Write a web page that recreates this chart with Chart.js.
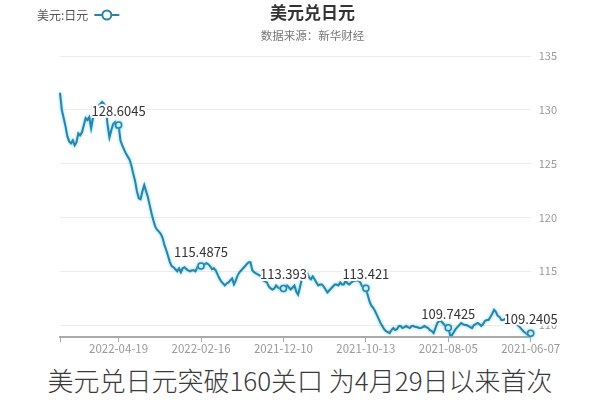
<!DOCTYPE html>
<html><head><meta charset="utf-8">
<script src="https://cdn.jsdelivr.net/npm/chart.js@4/dist/chart.umd.min.js"></script>
<style>
html,body{margin:0;padding:0;background:#fff;width:600px;height:400px;overflow:hidden}
#wrap{position:relative;width:600px;height:360px}
#cap{width:600px;height:40px;line-height:40px;text-align:center;font-family:"Noto Sans CJK SC",sans-serif;font-weight:300;font-size:26px;color:#3a3a3a;white-space:nowrap}
</style></head><body>
<div id="wrap"><canvas id="c"></canvas></div>
<div id="cap">美元兑日元突破160关口 为4月29日以来首次</div>
<script>
const seriesName = '美元:日元';
const titleText = '美元兑日元';
const subtitleText = '数据来源：新华财经';
const tickIndex = [0, 45, 90, 135, 180, 225];
const tickLabels = ['2021-06-07', '2021-08-05', '2021-10-13', '2021-12-10', '2022-02-16', '2022-04-19'];
const yTicks = [110, 115, 120, 125, 130, 135];
// chronological, one value per trading day starting 2021-06-07
const usdJpy = [
109.2405,109.06,109.15,109.29,109.43,109.62,109.81,110.00,110.09,110.19,
110.28,110.38,110.38,110.47,110.57,110.47,110.47,110.75,110.85,111.23,
111.42,111.04,110.75,110.47,110.47,110.38,110.09,109.91,110.09,110.19,
110.09,110.00,109.72,109.81,109.91,110.00,110.00,110.09,110.19,110.00,
109.81,109.62,109.34,109.06,109.06,109.7425,109.81,110.00,110.19,110.38,
110.38,110.19,109.72,109.25,109.43,109.53,109.72,109.81,109.91,109.81,
109.72,109.72,109.81,109.81,109.91,109.91,109.72,109.81,109.91,109.81,
109.72,109.91,109.91,109.62,109.53,109.72,109.53,109.25,109.34,109.43,
109.62,109.91,110.19,110.57,110.94,111.30,111.60,111.80,112.20,112.80,
113.421,113.50,113.60,113.96,114.15,114.15,114.15,114.06,113.96,113.77,
113.87,114.15,113.77,113.77,113.96,113.68,113.77,113.77,113.58,113.40,
113.21,113.02,113.30,113.58,113.77,113.77,113.68,113.96,114.25,114.53,
114.25,114.43,114.81,115.19,114.91,114.25,113.49,112.83,113.11,113.68,
113.49,113.30,113.49,113.68,113.58,113.393,113.40,113.40,113.49,113.68,
113.40,113.30,113.40,113.58,113.96,114.06,114.15,114.34,114.62,114.72,
114.81,114.91,115.09,115.85,115.85,115.66,115.47,115.28,115.09,114.91,
114.62,114.15,113.77,114.34,114.15,113.96,113.87,113.68,113.87,114.06,
114.34,114.72,115.09,115.28,115.19,115.47,115.66,115.75,115.66,115.57,
115.4875,115.47,115.38,115.00,115.09,115.09,115.00,115.09,115.19,115.38,
115.28,114.91,115.28,115.00,115.19,115.38,115.47,115.85,116.42,116.98,
117.45,118.11,118.49,118.68,118.87,119.15,119.72,120.38,121.13,121.89,
122.45,123.02,122.45,121.70,121.79,122.45,123.40,124.06,124.81,125.38,
125.66,125.94,126.32,126.70,127.17,128.6045,128.39,128.87,128.68,128.11,
127.45,128.58,130.19,130.57,130.75,130.57,130.38,130.19,129.81,129.25,
128.30,129.34,129.06,129.25,128.58,127.92,127.64,127.83,126.98,126.70,
127.17,126.89,127.08,127.55,128.49,129.25,130.00,131.60
];

const lineColor = '#2a84a7';
const FONT = '"Noto Sans CJK SC", "Noto Sans", sans-serif';
Chart.defaults.font.family = FONT;

const glowPlugin = {
  id: 'glow',
  beforeDatasetDraw(chart) {
    const ctx = chart.ctx; ctx.save();
    ctx.shadowColor = 'rgba(80,200,240,0.85)'; ctx.shadowBlur = 3;
  },
  afterDatasetDraw(chart) { chart.ctx.restore(); }
};

const valueLabelPlugin = {
  id: 'valueLabels',
  afterDatasetsDraw(chart) {
    const ctx = chart.ctx;
    const meta = chart.getDatasetMeta(0);
    ctx.save();
    ctx.font = '13px ' + FONT;
    ctx.textAlign = 'center';
    ctx.textBaseline = 'middle';
    ctx.lineJoin = 'round';
    tickIndex.forEach(i => {
      const p = meta.data[i];
      const txt = String(usdJpy[i]);
      ctx.strokeStyle = '#fff'; ctx.lineWidth = 4;
      ctx.strokeText(txt, p.x, p.y - 14);
      ctx.fillStyle = '#333';
      ctx.fillText(txt, p.x, p.y - 14);
    });
    ctx.restore();
  }
};

const legendPlugin = {
  id: 'legendDraw',
  afterDraw(chart) {
    const ctx = chart.ctx;
    ctx.save();
    ctx.font = '12px ' + FONT;
    ctx.fillStyle = '#555';
    ctx.textBaseline = 'middle';
    ctx.textAlign = 'left';
    const x0 = 37, y0 = 15;
    ctx.fillText(seriesName, x0, y0);
    const w = ctx.measureText(seriesName).width;
    const ix = x0 + w + 6;
    ctx.strokeStyle = lineColor; ctx.lineWidth = 2;
    ctx.beginPath(); ctx.moveTo(ix, y0); ctx.lineTo(ix + 25, y0); ctx.stroke();
    ctx.beginPath(); ctx.arc(ix + 12.5, y0, 4.5, 0, Math.PI * 2);
    ctx.fillStyle = '#fff'; ctx.fill(); ctx.stroke();
    ctx.restore();
  }
};

new Chart(document.getElementById('c'), {
  type: 'line',
  data: {
    datasets: [{
      label: seriesName,
      data: usdJpy.map((v, i) => ({ x: i, y: v })),
      borderColor: lineColor,
      borderWidth: 2,
      tension: 0,
      fill: false,
      clip: 8,
      pointRadius: ctx => tickIndex.includes(ctx.dataIndex) ? 3 : 0,
      pointBackgroundColor: '#fff',
      pointBorderColor: lineColor,
      pointBorderWidth: 1.5
    }]
  },
  options: {
    responsive: true,
    maintainAspectRatio: false,
    animation: false,
    events: [],
    layout: { padding: { left: 60, right: 35, top: 0, bottom: 4 } },
    plugins: {
      legend: { display: false },
      tooltip: { enabled: false },
      title: { display: true, text: titleText, color: '#333', font: { size: 17, weight: 'bold' }, padding: { top: 2, bottom: 6 } },
      subtitle: { display: true, text: subtitleText, color: '#777', font: { size: 11.5 }, padding: { top: 0, bottom: 14 } }
    },
    scales: {
      x: {
        type: 'linear',
        reverse: true,
        min: 0,
        max: usdJpy.length - 1,
        afterBuildTicks: axis => { axis.ticks = tickIndex.concat([usdJpy.length - 1]).map(v => ({ value: v })); },
        grid: { display: true, drawOnChartArea: false, drawTicks: true, tickLength: 5, tickColor: '#aaa' },
        border: { display: true, color: '#aaa', width: 2 },
        ticks: {
          autoSkip: false, maxRotation: 0, minRotation: 0, padding: 0,
          color: '#999', font: { size: 11.5 },
          callback: v => { const k = tickIndex.indexOf(v); return k >= 0 ? tickLabels[k] : ''; }
        }
      },
      y: {
        position: 'right',
        min: 108.87,
        max: 135,
        afterBuildTicks: axis => { axis.ticks = yTicks.map(v => ({ value: v })); },
        grid: { color: '#ececec', drawTicks: false },
        border: { display: false },
        ticks: { color: '#999', font: { size: 11 }, padding: 8 }
      }
    }
  },
  plugins: [glowPlugin, valueLabelPlugin, legendPlugin]
});
</script>
</body></html>
